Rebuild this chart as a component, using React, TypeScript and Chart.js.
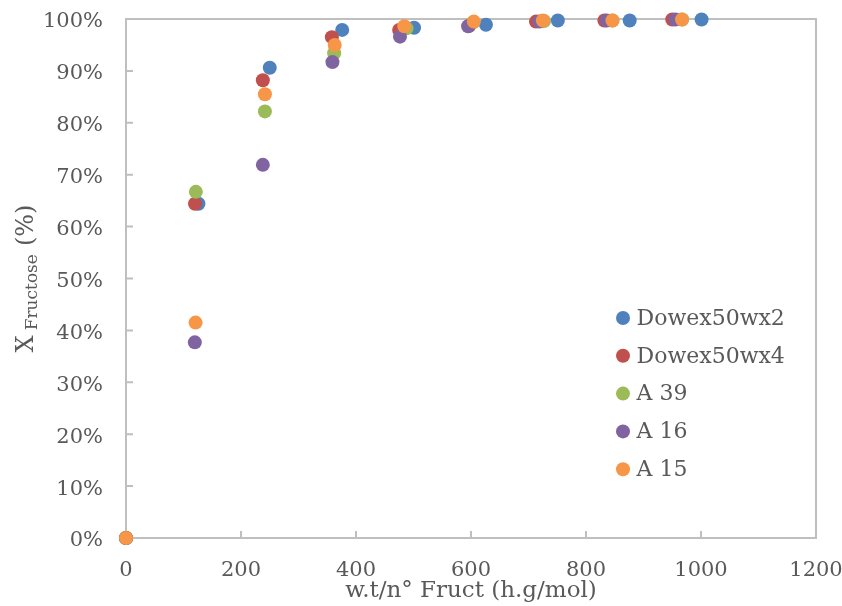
import React, { useEffect, useRef } from 'react';
import { Chart, registerables } from 'chart.js';

Chart.register(...registerables);

const FONT = '"DejaVu Serif", serif';
const TEXT_COLOR = '#595959';

const seriesNames = ['Dowex50wx2', 'Dowex50wx4', 'A 39', 'A 16', 'A 15'];
const seriesColors = ['#4F81BD', '#C0504D', '#9BBB59', '#8064A2', '#F79646'];

// x: w.t/n° Fruct (h.g/mol), y: X Fructose (%)
const dowex2X = [0, 126, 250, 376, 501, 626, 751, 876, 1001];
const dowex2Y = [0, 64.4, 90.6, 97.9, 98.3, 98.9, 99.7, 99.7, 99.9];
const dowex4X = [0, 120, 238, 358, 475, 597, 713, 832, 950];
const dowex4Y = [0, 64.4, 88.2, 96.5, 97.9, 98.7, 99.5, 99.7, 99.9];
const a39X = [0, 121.5, 241.6, 362, 488, 603, 727, 846, 967];
const a39Y = [0, 66.7, 82.2, 93.4, 98.2, 99.3, 99.6, 99.7, 99.9];
const a16X = [0, 119.7, 238, 359, 476.5, 595, 719, 836, 955.5];
const a16Y = [0, 37.7, 71.9, 91.7, 96.6, 98.6, 99.5, 99.7, 99.9];
const a15X = [0, 121, 241.6, 363, 484, 605, 725, 846, 967];
const a15Y = [0, 41.5, 85.5, 95.0, 98.6, 99.5, 99.7, 99.7, 99.9];

const seriesX = [dowex2X, dowex4X, a39X, a16X, a15X];
const seriesY = [dowex2Y, dowex4Y, a39Y, a16Y, a15Y];

const xMin = 0;
const xMax = 1200;
const xStep = 200;
const yMin = 0;
const yMax = 100;
const yStep = 10;

const xTitle = 'w.t/n° Fruct (h.g/mol)';
const yTitleMain = 'X';
const yTitleSub = 'Fructose';
const yTitleUnit = '(%)';

const framePlugin = {
  id: 'excelFrame',
  beforeDatasetsDraw(chart: any) {
    const { ctx, chartArea: a, scales } = chart;
    ctx.save();
    ctx.strokeStyle = '#BFBFBF';
    ctx.lineWidth = 2;
    ctx.strokeRect(a.left, a.top, a.right - a.left, a.bottom - a.top);
    ctx.beginPath();
    scales.x.ticks.forEach((t: any) => {
      const px = scales.x.getPixelForValue(t.value);
      ctx.moveTo(px, a.bottom);
      ctx.lineTo(px, a.bottom - 7);
    });
    scales.y.ticks.forEach((t: any) => {
      const py = scales.y.getPixelForValue(t.value);
      ctx.moveTo(a.left, py);
      ctx.lineTo(a.left + 7, py);
    });
    ctx.stroke();
    ctx.restore();
  },
  afterDraw(chart: any) {
    const { ctx, chartArea: a } = chart;
    // legend inside plot area
    ctx.save();
    const lx = a.right - 193;
    const ly0 = a.top + 299;
    const gap = 37.8;
    ctx.font = `22px ${FONT}`;
    ctx.textBaseline = 'middle';
    ctx.textAlign = 'left';
    chart.data.datasets.forEach((ds: any, i: number) => {
      const y = ly0 + i * gap;
      ctx.fillStyle = ds.backgroundColor;
      ctx.beginPath();
      ctx.arc(lx, y, 7, 0, Math.PI * 2);
      ctx.fill();
      ctx.fillStyle = TEXT_COLOR;
      ctx.fillText(ds.label, lx + 13.5, y + 1);
    });
    ctx.restore();

    // y axis title with subscript
    ctx.save();
    const cy = (a.top + a.bottom) / 2;
    ctx.translate(33, cy);
    ctx.rotate(-Math.PI / 2);
    ctx.fillStyle = TEXT_COLOR;
    ctx.textBaseline = 'alphabetic';
    ctx.textAlign = 'left';
    const mainFont = `24px ${FONT}`;
    const subFont = `17px ${FONT}`;
    ctx.font = mainFont;
    const wX = ctx.measureText(yTitleMain).width;
    const wUnit = ctx.measureText(yTitleUnit).width;
    ctx.font = subFont;
    const wSub = ctx.measureText(yTitleSub).width;
    const sp1 = 5;
    const sp2 = 8;
    const total = wX + sp1 + wSub + sp2 + wUnit;
    let u = -total / 2;
    ctx.font = mainFont;
    ctx.fillText(yTitleMain, u, 0);
    u += wX + sp1;
    ctx.font = subFont;
    ctx.fillText(yTitleSub, u, 4);
    u += wSub + sp2;
    ctx.font = mainFont;
    ctx.fillText(yTitleUnit, u, 0);
    ctx.restore();
  },
};

export default function App() {
  const canvasRef = useRef<HTMLCanvasElement | null>(null);

  useEffect(() => {
    const canvas = canvasRef.current;
    if (!canvas) return;
    const datasets = seriesNames.map((name, i) => ({
      label: name,
      data: seriesX[i].map((x, j) => ({ x, y: seriesY[i][j] })),
      backgroundColor: seriesColors[i],
      borderColor: seriesColors[i],
      pointRadius: 7,
      pointBorderWidth: 0,
      pointHoverRadius: 7,
      showLine: false,
      clip: false as any,
      order: seriesNames.length - 1 - i,
    }));
    const chart = new Chart(canvas, {
      type: 'scatter',
      data: { datasets },
      options: {
        animation: false,
        responsive: false,
        events: [],
        layout: { padding: { top: 19, right: 26, left: 0, bottom: 0 } },
        plugins: {
          legend: { display: false },
          tooltip: { enabled: false },
        },
        scales: {
          x: {
            type: 'linear',
            min: xMin,
            max: xMax,
            ticks: {
              stepSize: xStep,
              font: { family: FONT, size: 21 },
              color: TEXT_COLOR,
              padding: 20,
              maxRotation: 0,
              autoSkip: false,
              callback: (v: any) => String(v),
            },
            grid: { display: false, drawTicks: false },
            border: { display: false },
            title: {
              display: true,
              text: xTitle,
              font: { family: FONT, size: 23 },
              color: TEXT_COLOR,
              padding: { top: 0, bottom: 1 },
            },
            afterFit: (s: any) => {
              s.height = 68;
              s.paddingLeft = 0;
              s.paddingRight = 0;
              s.paddingTop = 0;
              s.paddingBottom = 0;
            },
          },
          y: {
            type: 'linear',
            min: yMin,
            max: yMax,
            ticks: {
              stepSize: yStep,
              font: { family: FONT, size: 21 },
              color: TEXT_COLOR,
              padding: 23,
              labelOffset: 3,
              callback: (v: any) => `${v}%`,
            },
            grid: { display: false, drawTicks: false },
            border: { display: false },
            afterFit: (s: any) => {
              s.width = 126;
              s.paddingLeft = 0;
              s.paddingRight = 0;
              s.paddingTop = 0;
              s.paddingBottom = 0;
            },
          },
        },
      },
      plugins: [framePlugin],
    });
    return () => chart.destroy();
  }, []);

  return (
    <div style={{ position: 'absolute', left: 0, top: 0, width: 842, height: 606, background: '#fff' }}>
      <canvas ref={canvasRef} width={842} height={606} />
    </div>
  );
}
